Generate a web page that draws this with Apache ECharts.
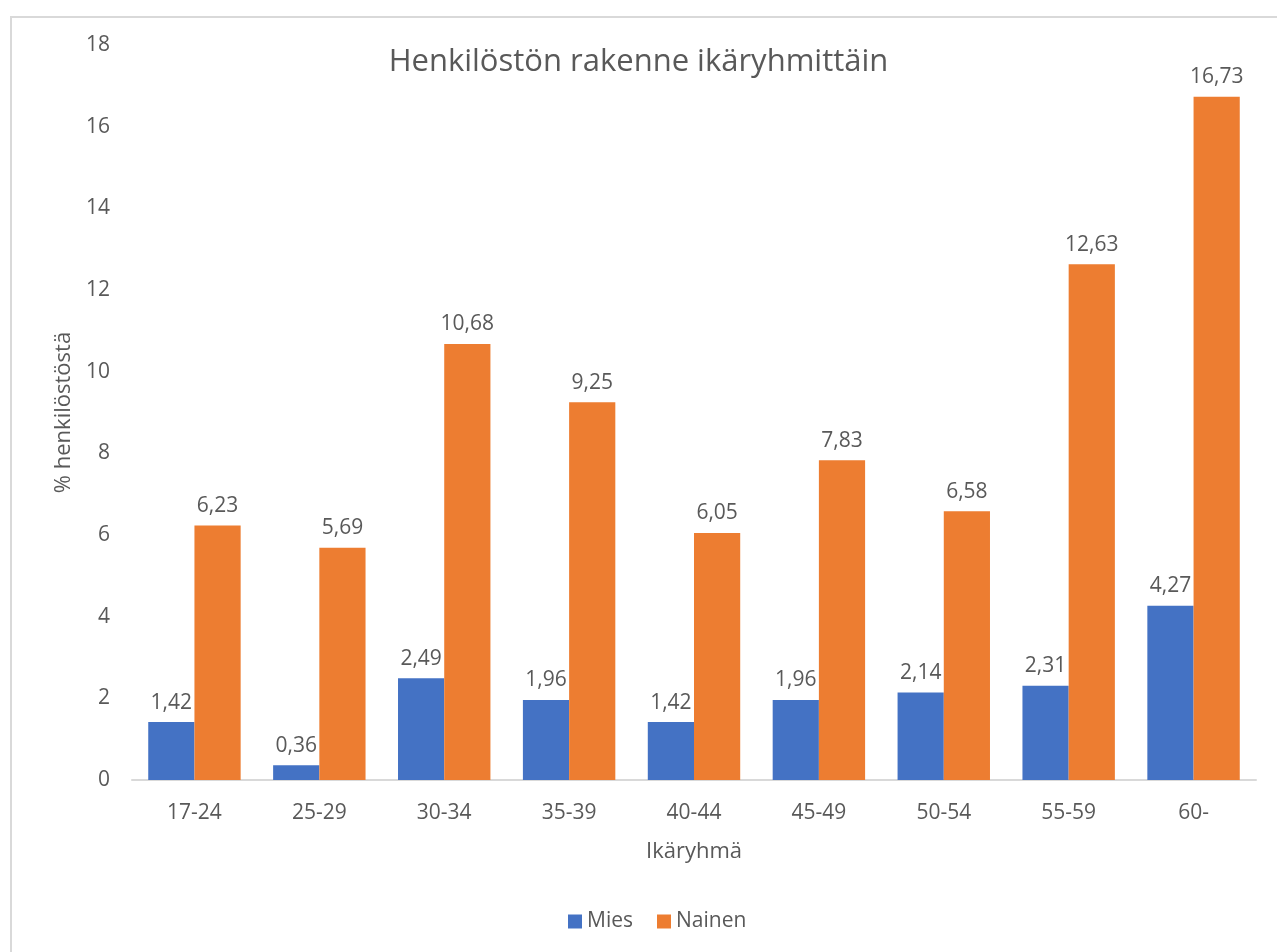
<!DOCTYPE html>
<html>
<head>
<meta charset="utf-8">
<script src="https://cdn.jsdelivr.net/npm/echarts@6/dist/echarts.min.js"></script>
<style>
  html, body { margin: 0; padding: 0; background: #fff; }
  #chart { width: 1277px; height: 952px; }
</style>
</head>
<body>
<div id="chart"></div>
<script>
const ageGroups = ['17-24', '25-29', '30-34', '35-39', '40-44', '45-49', '50-54', '55-59', '60-'];
const mies = [1.42, 0.36, 2.49, 1.96, 1.42, 1.96, 2.14, 2.31, 4.27];
const nainen = [6.23, 5.69, 10.68, 9.25, 6.05, 7.83, 6.58, 12.63, 16.73];

document.addEventListener('DOMContentLoaded', () => {
    const chart = echarts.init(document.getElementById('chart'));
    const font = 'Open Sans';
    const textColor = '#595959';

    const label = {
        show: true,
        position: 'top',
        distance: 9,
        color: textColor,
        fontFamily: font,
        fontSize: 21,
        formatter: p => p.value.toFixed(2).replace('.', ',')
    };

    const option = {
        backgroundColor: '#fff',
        graphic: [{
            type: 'rect',
            shape: { x: 11, y: 17, width: 1300, height: 1000 },
            style: { fill: 'none', stroke: '#d9d9d9', lineWidth: 2 },
            silent: true
        }],
        title: {
            text: 'Henkilöstön rakenne ikäryhmittäin',
            left: 'center',
            top: 42,
            textStyle: { color: textColor, fontFamily: font, fontSize: 31, fontWeight: 'normal' }
        },
        legend: {
            data: ['Mies', 'Nainen'],
            bottom: 15,
            left: 563,
            itemWidth: 14,
            itemHeight: 14,
            itemGap: 24,
            icon: 'rect',
            textStyle: { color: textColor, fontFamily: font, fontSize: 21 }
        },
        grid: { left: 132, right: 21, top: 45, bottom: 172 },
        xAxis: {
            type: 'category',
            data: ageGroups,
            name: 'Ikäryhmä',
            nameLocation: 'middle',
            nameGap: 61,
            nameTextStyle: { color: textColor, fontFamily: font, fontSize: 22 },
            axisLine: { lineStyle: { color: '#d9d9d9', width: 2 } },
            axisTick: { show: false },
            axisLabel: { color: textColor, fontFamily: font, fontSize: 21, margin: 23 }
        },
        yAxis: {
            type: 'value',
            min: 0,
            max: 18,
            interval: 2,
            name: '% henkilöstöstä',
            nameLocation: 'middle',
            nameGap: 55,
            nameRotate: 90,
            nameTextStyle: { color: textColor, fontFamily: font, fontSize: 22 },
            axisLine: { show: false },
            axisTick: { show: false },
            splitLine: { show: false },
            axisLabel: { color: textColor, fontFamily: font, fontSize: 21, margin: 22 }
        },
        series: [{
            name: 'Mies',
            type: 'bar',
            data: mies,
            barGap: '0%',
            barCategoryGap: '26%',
            itemStyle: { color: '#4472C4' },
            label: label
        }, {
            name: 'Nainen',
            type: 'bar',
            data: nainen,
            barGap: '0%',
            barCategoryGap: '26%',
            itemStyle: { color: '#ED7D31' },
            label: label
        }]
    };

    chart.setOption(option);
});
</script>
</body>
</html>
